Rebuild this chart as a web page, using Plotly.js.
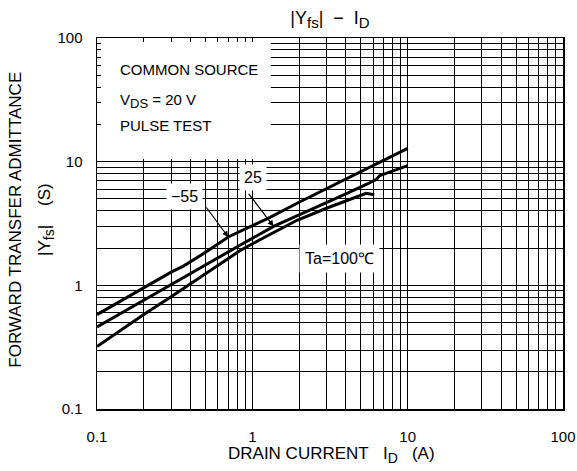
<!DOCTYPE html>
<html>
<head>
<meta charset="utf-8">
<script src="https://cdn.plot.ly/plotly-3.0.1.min.js"></script>
<style>html,body{margin:0;padding:0;background:#fff;}#chart{width:577px;height:471px;}</style>
</head>
<body>
<div id="chart"></div>
<script>
// Drain current I_D (A) and |Yfs| (S) for each ambient temperature
const idM55 = [0.1, 0.15, 0.2, 0.3, 0.36, 0.5, 0.7, 1.0, 1.3, 2, 3, 5, 7, 10];
const yfsM55 = [0.58, 0.78, 0.95, 1.28, 1.43, 1.85, 2.46, 3.05, 3.55, 4.7, 6.05, 8.3, 10.3, 12.8];

const id25 = [0.1, 0.2, 0.3, 0.5, 0.8, 1.37, 2, 2.9, 4, 5.5, 6.3, 6.6, 8, 10];
const yfs25 = [0.46, 0.76, 1.02, 1.47, 2.05, 3.0, 3.7, 4.55, 5.5, 6.6, 7.2, 7.7, 8.4, 9.3];

const id100 = [0.1, 0.14, 0.2, 0.3, 0.4, 0.6, 0.84, 1.2, 1.94, 3, 4.3, 5.4, 6.1];
const yfs100 = [0.32, 0.43, 0.58, 0.81, 1.03, 1.45, 1.92, 2.45, 3.36, 4.2, 5.0, 5.55, 5.4];

const seriesNames = ['-55', '25', '100'];
const decadeLabels = ['0.1', '1', '10', '100'];
const decadeValues = [0.1, 1, 10, 100];

// log grid at 1..9 x 10^n, labels only on decades
const gridVals = [];
const gridText = [];
for (let d = 0; d < decadeValues.length; d++) {
  const base = decadeValues[d];
  const maxM = (d === decadeValues.length - 1) ? 1 : 9;
  for (let m = 1; m <= maxM; m++) {
    gridVals.push(base * m);
    gridText.push(m === 1 ? decadeLabels[d] : '');
  }
}

const font = 'Liberation Sans, Arial, Helvetica, sans-serif';
const lineStyle = {color: '#000', width: 3};

const traces = [
  {x: idM55, y: yfsM55, name: seriesNames[0], mode: 'lines', line: lineStyle, type: 'scatter'},
  {x: id25, y: yfs25, name: seriesNames[1], mode: 'lines', line: lineStyle, type: 'scatter'},
  {x: id100, y: yfs100, name: seriesNames[2], mode: 'lines', line: lineStyle, type: 'scatter'}
];

const axisCommon = {
  type: 'log',
  tickmode: 'array',
  tickvals: gridVals,
  ticktext: gridText,
  showgrid: true,
  gridcolor: '#000',
  gridwidth: 1,
  showline: true,
  linecolor: '#000',
  linewidth: 1.5,
  mirror: 'ticks',
  ticks: 'inside',
  ticklen: 4,
  tickwidth: 1,
  tickcolor: '#000',
  zeroline: false,
  tickfont: {family: font, size: 15, color: '#000'}
};

const nbsp = '\u00A0';
const sub = (t, px) => '<sub><span style="font-size:' + px + 'px">' + t + '</span></sub>';
const layout = {
  width: 577,
  height: 471,
  margin: {l: 97, r: 14, t: 38, b: 62},
  paper_bgcolor: '#fff',
  plot_bgcolor: '#fff',
  showlegend: false,
  font: {family: font, color: '#000'},
  title: {
    text: '|Y' + sub('fs', 15) + '|' + nbsp + ' \u2212 ' + nbsp + 'I' + sub('D', 15),
    font: {family: font, size: 18, color: '#000'},
    xref: 'paper', x: 0.5, xanchor: 'center',
    yref: 'container', y: 0.962, yanchor: 'middle'
  },
  xaxis: Object.assign({}, axisCommon, {range: [-1, 2], ticklabelstandoff: 13}),
  yaxis: Object.assign({}, axisCommon, {range: [-1, 2], ticklabelstandoff: 10}),
  shapes: [
    {type: 'rect', xref: 'paper', yref: 'paper', x0: 0.0086, x1: 0.373, y0: 0.674, y1: 0.989,
     fillcolor: '#fff', line: {width: 0}, layer: 'above'}
  ],
  annotations: [
    {text: 'COMMON SOURCE', xref: 'paper', yref: 'paper', x: 0.045, y: 0.914, xanchor: 'left', yanchor: 'middle', showarrow: false, font: {family: font, size: 15}},
    {text: 'V' + sub('DS', 13) + ' = 20 V', xref: 'paper', yref: 'paper', x: 0.045, y: 0.830, xanchor: 'left', yanchor: 'middle', showarrow: false, font: {family: font, size: 15}},
    {text: 'PULSE TEST', xref: 'paper', yref: 'paper', x: 0.045, y: 0.765, xanchor: 'left', yanchor: 'middle', showarrow: false, font: {family: font, size: 15}},
    {text: '\u221255', xref: 'paper', yref: 'paper', x: 0.1867, y: 0.574, xanchor: 'center', yanchor: 'middle', showarrow: false, bgcolor: '#fff', borderpad: 4, font: {family: font, size: 16}},
    {text: '25', xref: 'paper', yref: 'paper', x: 0.335, y: 0.623, xanchor: 'center', yanchor: 'middle', showarrow: false, bgcolor: '#fff', borderpad: 4, font: {family: font, size: 16}},
    {text: 'Ta=100\u2103', xref: 'paper', yref: 'paper', x: 0.521, y: 0.407, xanchor: 'center', yanchor: 'middle', showarrow: false, bgcolor: '#fff', borderpad: 5, font: {family: font, size: 16}},
    {text: '', xref: 'x', yref: 'y', x: Math.log10(idM55[6]), y: Math.log10(yfsM55[6]), showarrow: true, ax: -23, ay: -31, arrowhead: 2, arrowsize: 1, arrowwidth: 1.2, arrowcolor: '#000'},
    {text: '', xref: 'x', yref: 'y', x: Math.log10(id25[5]), y: Math.log10(yfs25[5]), showarrow: true, ax: -26, ay: -34, arrowhead: 2, arrowsize: 1, arrowwidth: 1.2, arrowcolor: '#000'},
    {text: 'FORWARD TRANSFER ADMITTANCE', xref: 'paper', yref: 'paper', x: -0.174, y: 0.51, xanchor: 'center', yanchor: 'middle', textangle: -90, showarrow: false, font: {family: font, size: 17}},
    {text: '|Y' + sub('fs', 14) + '|' + nbsp + nbsp + nbsp + nbsp + '(S)', xref: 'paper', yref: 'paper', x: -0.109, y: 0.51, xanchor: 'center', yanchor: 'middle', textangle: -90, showarrow: false, font: {family: font, size: 17}},
    {text: 'DRAIN CURRENT' + nbsp + nbsp + nbsp + 'I' + sub('D', 14) + nbsp + nbsp + nbsp + '(A)', xref: 'paper', yref: 'paper', x: 0.504, y: -0.125, xanchor: 'center', yanchor: 'middle', showarrow: false, font: {family: font, size: 17}}
  ]
};

Plotly.newPlot('chart', traces, layout, {displayModeBar: false, staticPlot: true});
</script>
</body>
</html>
